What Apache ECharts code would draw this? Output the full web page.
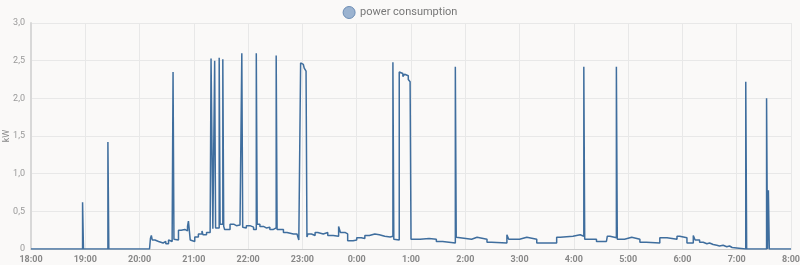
<!DOCTYPE html>
<html><head><meta charset="utf-8">
<script src="https://cdn.jsdelivr.net/npm/echarts@6/dist/echarts.min.js"></script>
<style>html,body{margin:0;padding:0;background:#faf9f8;}#c{width:800px;height:265px;}</style>
</head><body><div id="c"></div>
<script>
var seriesName = 'power consumption';
var yTicks = ['0', '0,5', '1,0', '1,5', '2,0', '2,5', '3,0'];
var times = [
 '18:00','18:57','18:58','19:25','19:26','20:11','20:12','20:13','20:14','20:17','20:21','20:23','20:26','20:29','20:32','20:34','20:36','20:37','20:38','20:39','20:43','20:46','20:50','20:53','20:54','20:56','20:58','21:01','21:05','21:09','21:10','21:14','21:18','21:19','21:20','21:21','21:23','21:24','21:28','21:29','21:32','21:33','21:34','21:40','21:44','21:47','21:51','21:53','21:54','21:55','21:58','22:02','22:06','22:09','22:10','22:13','22:17','22:20','22:24','22:28','22:31','22:32','22:35','22:39','22:43','22:50','22:54','22:56','22:58','22:59','23:00','23:01','23:02','23:03','23:04','23:05','23:06','23:10','23:14','23:17','23:23','23:28','23:34','23:40','23:42','23:47','23:50','23:56','0:00','0:05','0:09','0:14','0:20','0:25','0:31','0:37','0:40','0:41','0:42','0:47','0:49','0:51','0:53','0:55','0:57','0:59','1:00','1:10','1:20','1:28','1:35','1:49','1:50','1:52','2:07','2:13','2:24','2:29','2:46','2:48','3:00','3:08','3:19','3:41','3:45','3:59','4:07','4:11','4:12','4:25','4:36','4:37','4:40','4:47','4:48','4:56','5:04','5:13','5:20','5:35','5:43','5:54','5:57','6:05','6:12','6:14','6:19','6:23','6:27','6:30','6:34','6:38','6:41','6:45','6:49','6:52','6:55','7:10','7:11','7:33','7:34','7:35','7:36','8:00'
];
var kw = [
 0,0.62,0,1.42,0,0,0.14,0.18,0.12,0.10,0.11,0.08,0.10,0.07,0.12,0.10,0.14,2.35,0.13,0.12,0.25,0.26,0.24,0.30,0.37,0.12,0.10,0.16,0.20,0.24,0.19,0.22,0.25,2.53,2.54,0.27,2.50,0.28,2.54,0.33,2.52,0.30,0.26,0.33,0.31,0.32,0.30,2.60,0.29,0.28,0.31,0.29,0.26,2.60,0.33,0.30,0.28,0.29,0.26,0.28,2.57,0.26,0.26,0.22,0.20,0.20,0.22,0.12,2.47,2.46,2.45,2.43,2.40,2.38,2.36,0.16,0.20,0.18,0.22,0.20,0.22,0.18,0.17,0.30,0.22,0.20,0.11,0.12,0.15,0.14,0.18,0.20,0.19,0.17,0.16,0.17,2.48,0.13,0.12,2.35,2.33,2.29,2.32,2.30,2.25,2.22,0.13,0.14,0.13,0.10,0.08,2.42,0.155,0.13,0.155,0.13,0.09,0.08,0.19,0.13,0.155,0.13,0.08,0.155,0.17,0.19,0.17,2.42,0.13,0.10,0.08,0.17,0.15,2.42,0.13,0.155,0.13,0.09,0.08,0.15,0.13,0.17,0.15,0.08,0.18,0.12,0.09,0.07,0.08,0.06,0.05,0.04,0.05,0.03,0.04,0.02,0,2.22,0,2.0,0,0.78,0,0
];
function toMin(t){var p=t.split(':');var h=+p[0],m=+p[1];if(h<12)h+=24;return (h-18)*60+m;}
function label(v){var h=(18+Math.round(v/60))%24;return h+':00';}
var data = times.map(function(t,i){return [toMin(t), kw[i]];});
var chart = echarts.init(document.getElementById('c'), null, {renderer:'canvas'});
chart.setOption({
  backgroundColor:'#faf9f8',
  animation:false,
  legend:{top:1,left:'center',icon:'circle',itemWidth:12,itemHeight:12,itemGap:6,
    textStyle:{color:'#777',fontSize:11,fontFamily:'Roboto, sans-serif'},
    data:[{name:seriesName,itemStyle:{color:'#9bb3d0',borderColor:'#6c8db5',borderWidth:1}}]},
  grid:{left:31,right:9,top:23,bottom:16,containLabel:false,outerBoundsMode:'none'},
  xAxis:{type:'value',min:0,max:840,interval:60,
    axisLine:{show:true,lineStyle:{color:'#ccc'}},axisTick:{show:false},
    splitLine:{show:true,lineStyle:{color:'#e8e8e8'}},
    axisLabel:{formatter:label,color:'#888',fontSize:9,fontWeight:'bold',margin:6,fontFamily:'Roboto, sans-serif'}},
  yAxis:{type:'value',min:0,max:3,interval:0.5,name:'kW',nameLocation:'middle',nameGap:20,nameMoveOverlap:false,
    nameTextStyle:{color:'#888',fontSize:9,fontFamily:'Roboto, sans-serif'},
    axisLine:{show:true,lineStyle:{color:'#d8d8d8',width:2}},axisTick:{show:false},
    splitLine:{show:true,lineStyle:{color:'#e8e8e8'}},
    axisLabel:{formatter:function(v){return yTicks[Math.round(v*2)];},color:'#999',fontSize:9,margin:6,fontFamily:'Roboto, sans-serif'}},
  series:[{name:seriesName,type:'line',step:'end',showSymbol:false,data:data,
    lineStyle:{color:'#3f6e9e',width:1.5},itemStyle:{color:'#3f6e9e'}}]
});
</script></body></html>
